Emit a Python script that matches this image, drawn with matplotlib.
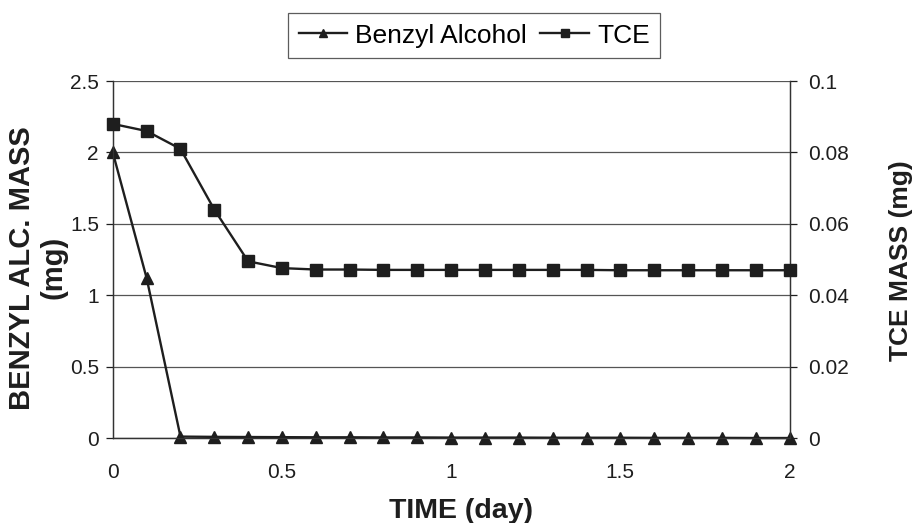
import matplotlib
matplotlib.use("Agg")
import matplotlib.pyplot as plt

plt.rcParams['font.family'] = ['Liberation Sans', 'DejaVu Sans']

time = [0, 0.1, 0.2, 0.3, 0.4, 0.5, 0.6, 0.7, 0.8, 0.9, 1.0, 1.1, 1.2, 1.3,
        1.4, 1.5, 1.6, 1.7, 1.8, 1.9, 2.0]
benzyl = [2.0, 1.12, 0.01, 0.008, 0.007, 0.006, 0.005, 0.005, 0.004, 0.004,
          0.003, 0.003, 0.003, 0.002, 0.002, 0.002, 0.001, 0.001, 0.001, 0.0, 0.0]
tce = [0.088, 0.086, 0.081, 0.064, 0.0495, 0.0476, 0.0472, 0.0472, 0.0471,
       0.0471, 0.0471, 0.0471, 0.0471, 0.0471, 0.0471, 0.0470, 0.0470, 0.0470,
       0.0470, 0.0470, 0.0470]

left_ticks = [0, 0.5, 1, 1.5, 2, 2.5]
left_labels = ['0', '0.5', '1', '1.5', '2', '2.5']
right_ticks = [0, 0.02, 0.04, 0.06, 0.08, 0.1]
right_labels = ['0', '0.02', '0.04', '0.06', '0.08', '0.1']
x_ticks = [0, 0.5, 1, 1.5, 2]
x_labels = ['0', '0.5', '1', '1.5', '2']

INK = '#1e1e1e'

fig = plt.figure(figsize=(9.17, 5.23), dpi=100)
ax = fig.add_axes([0.123, 0.1625, 0.738, 0.6825])
ax2 = ax.twinx()

l1, = ax.plot(time, benzyl, color=INK, lw=1.7, marker='^', ms=9,
              label='Benzyl Alcohol', zorder=3, clip_on=False)
l2, = ax2.plot(time, tce, color=INK, lw=1.7, marker='s', ms=8.5,
               label='TCE', zorder=3, clip_on=False)

ax.set_xlim(0, 2)
ax.set_ylim(0, 2.5)
ax2.set_ylim(0, 0.1)
ax.set_yticks(left_ticks)
ax.set_yticklabels(left_labels)
ax2.set_yticks(right_ticks)
ax2.set_yticklabels(right_labels)
ax.set_xticks(x_ticks)
ax.set_xticklabels(x_labels)

ax.grid(axis='y', color='#555555', lw=0.9)
ax.set_axisbelow(True)
for a in (ax, ax2):
    a.spines['top'].set_visible(False)
    for s in ('left', 'right', 'bottom'):
        a.spines[s].set_color('#333333')
        a.spines[s].set_linewidth(0.9)

ax.tick_params(axis='y', direction='out', length=5, width=0.9, labelsize=15,
               colors=INK, pad=5)
ax2.tick_params(axis='y', direction='out', length=5, width=0.9, labelsize=15,
                colors=INK, pad=8.5)
ax.tick_params(axis='x', length=0, labelsize=15, colors=INK, pad=18)

fig.text(0.503, 1 - 518 / 523, 'TIME (day)', fontsize=20.5, fontweight='bold',
         color=INK, ha='center', va='baseline')
fig.text(0.041, 0.488, 'BENZYL ALC. MASS\n(mg)', fontsize=21, fontweight='bold',
         color=INK, ha='center', va='center', rotation=90, linespacing=1.15,
         multialignment='center')
fig.text(0.9826, 0.501, 'TCE MASS (mg)', fontsize=19, fontweight='bold',
         color=INK, ha='center', va='center', rotation=90)

leg = fig.legend(handles=[l1, l2], loc='center', bbox_to_anchor=(0.517, 0.932),
                 ncol=2, fontsize=19, frameon=True, fancybox=False, edgecolor='#333333',
                 handlelength=1.85, handletextpad=0.3, columnspacing=0.5,
                 borderpad=0.4, markerscale=0.7)
leg.get_frame().set_linewidth(0.9)

fig.savefig('out.png', dpi=100)
